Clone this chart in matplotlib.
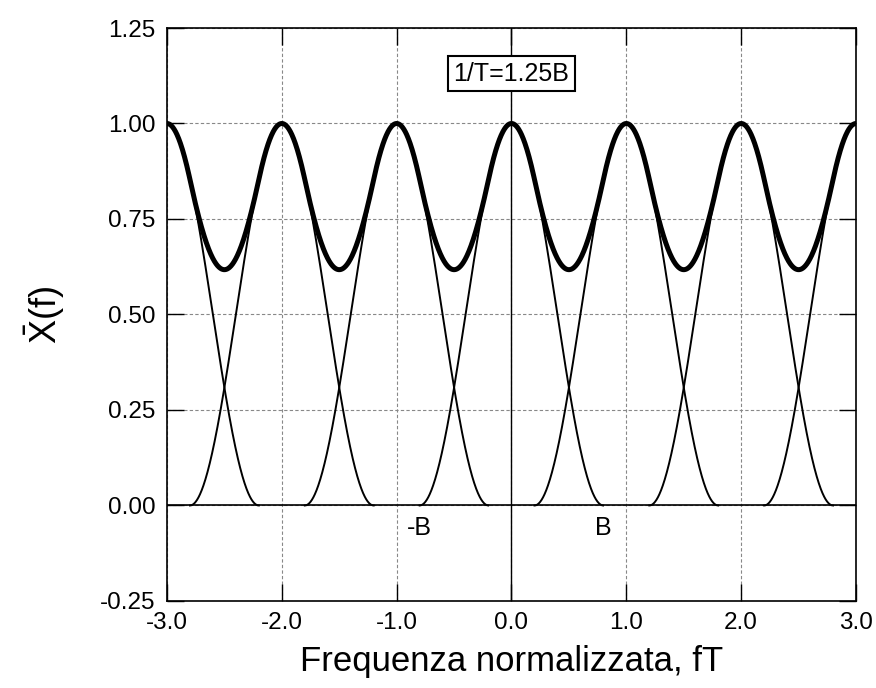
"""
Spettro del segnale campionato: repliche di X(f) centrate su k/T con 1/T = 1.25B.
"""

import numpy as np
import matplotlib
matplotlib.use("Agg")
import matplotlib.pyplot as plt


# ─── Dati ─────────────────────────────────────────────────────────────────────

replica_centers = [-3, -2, -1, 0, 1, 2, 3]       # k, in unità di fT
bandwidth = 0.8                                   # B = 1 / 1.25 (da "1/T=1.25B")
peak = 1.0
x_ticks = [-3.0, -2.0, -1.0, 0.0, 1.0, 2.0, 3.0]
y_ticks = [-0.25, 0.0, 0.25, 0.50, 0.75, 1.00, 1.25]
band_labels = ["-B", "B"]
band_label_x = [-bandwidth, bandwidth]


def replica(f, center):
    """Impulso a coseno rialzato di banda B centrato su center."""
    u = (f - center) / bandwidth
    out = peak * 0.5 * (1 + np.cos(np.pi * u))
    out[np.abs(u) > 1] = 0.0
    return out


plt.rcParams["font.family"] = ["Liberation Sans", "DejaVu Sans"]
plt.rcParams["axes.unicode_minus"] = False
plt.rcParams["mathtext.fontset"] = "custom"
plt.rcParams["mathtext.rm"] = "Liberation Sans"

fig = plt.figure(figsize=(8.76, 6.88), dpi=100)
ax = fig.add_axes([0.1906, 0.1265, 0.7866, 0.8328])

f = np.linspace(-3, 3, 2401)
total = np.zeros_like(f)
for c in replica_centers:
    y = replica(f, c)
    total += y
    # solo il supporto della replica, lo zero lo disegna l'asse
    inside = np.abs(f - c) <= bandwidth
    ax.plot(f[inside], y[inside], color="black", linewidth=1.4, zorder=3)
ax.plot(f, total, color="black", linewidth=3.6, zorder=4)

# assi di riferimento
ax.axhline(0, color="black", linewidth=1.2, zorder=2)
ax.axvline(0, color="black", linewidth=1.0, zorder=2)

ax.set_xlim(-3, 3)
ax.set_ylim(-0.25, 1.25)
ax.set_xticks(x_ticks)
ax.set_xticklabels([f"{v:.1f}" for v in x_ticks])
ax.set_yticks(y_ticks)
ax.set_yticklabels([f"{v:.2f}" for v in y_ticks])
ax.tick_params(direction="in", length=12, width=1.0, labelsize=17.5,
               top=True, right=True, pad=8, colors="black")
ax.grid(True, color="#888888", linestyle=(0, (3, 2)), linewidth=0.8, zorder=1)
for s in ax.spines.values():
    s.set_linewidth(1.2)

for lab, xv in zip(band_labels, band_label_x):
    ax.text(xv, -0.06, lab, ha="center", va="center", fontsize=18, zorder=5)

ax.text(0.0, 1.13, "1/T=1.25B", ha="center", va="center", fontsize=18, zorder=5,
        bbox=dict(boxstyle="square,pad=0.22", facecolor="white",
                  edgecolor="black", linewidth=1.5))

ax.set_xlabel("Frequenza normalizzata, fT", fontsize=25, labelpad=8)
ax.set_ylabel(r"$\bar{\mathrm{X}}\mathrm{(f)}$", fontsize=26, labelpad=24)

fig.savefig("out.png", dpi=100)
